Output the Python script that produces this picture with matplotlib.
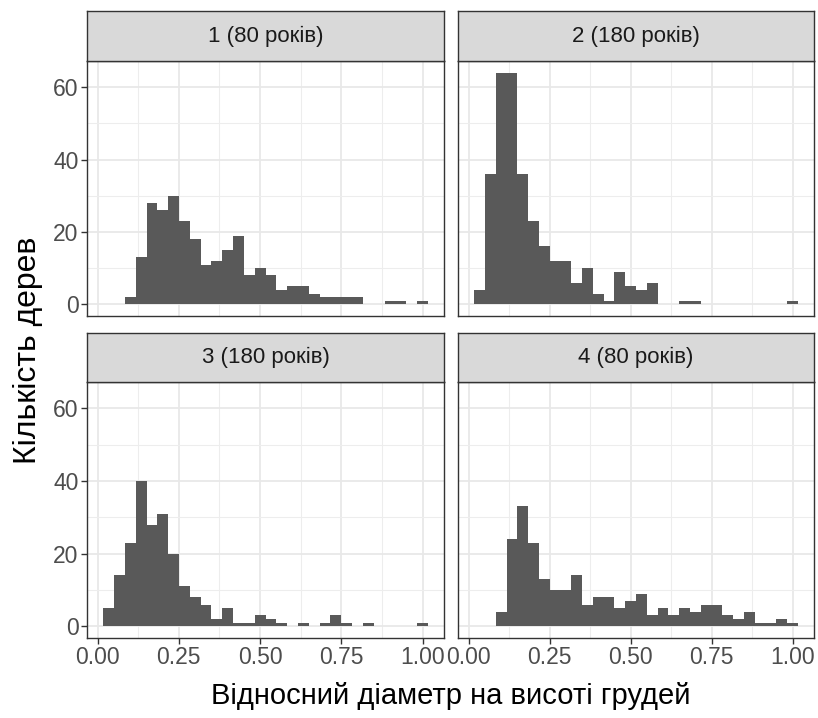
import numpy as np
import matplotlib as mpl
mpl.use('Agg')
import matplotlib.pyplot as plt

mpl.rcParams['font.family'] = ['Liberation Sans', 'DejaVu Sans']

# bin range shared by all facets (30 bins)
bin_lo, bin_hi, n_bins = 0.0175, 1.016, 30

titles = ['1 (80 років)', '2 (180 років)', '3 (180 років)', '4 (80 років)']

counts_1 = [0, 0, 2, 13, 28, 26, 30, 23, 18, 11, 12, 15, 19, 8, 10,
            8, 4, 5, 5, 3, 2, 2, 2, 2, 0, 0, 1, 1, 0, 1]
counts_2 = [4, 36, 64, 64, 36, 23, 16, 12, 12, 6, 10, 3, 1, 9, 5,
            4, 6, 0, 0, 1, 1, 0, 0, 0, 0, 0, 0, 0, 0, 1]
counts_3 = [5, 14, 23, 40, 28, 31, 20, 11, 8, 6, 2, 5, 1, 1, 3,
            2, 1, 0, 1, 0, 1, 3, 1, 0, 1, 0, 0, 0, 0, 1]
counts_4 = [0, 0, 4, 24, 33, 23, 13, 10, 10, 14, 6, 8, 8, 5, 7,
            9, 3, 5, 3, 5, 4, 6, 6, 3, 2, 4, 1, 1, 2, 1]
all_counts = [counts_1, counts_2, counts_3, counts_4]

x_ticks = [0.0, 0.25, 0.5, 0.75, 1.0]
x_ticklabels = ['0.00', '0.25', '0.50', '0.75', '1.00']
y_ticks = [0, 20, 40, 60]

W, H = 818, 718
fig = plt.figure(figsize=(W / 100, H / 100), dpi=100)

# panel boxes in pixels: (left, right) per column, (top, bottom, strip top) per row
cols = [(87, 444), (458, 814)]
rows = [(61, 316, 11), (382, 638, 333)]

edges = np.linspace(bin_lo, bin_hi, n_bins + 1)
bw = edges[1] - edges[0]
span = bin_hi - bin_lo
xlim = (bin_lo - 0.05 * span, bin_hi + 0.05 * span)
ymax = max(max(c) for c in all_counts)
ylim = (-0.05 * ymax, ymax * 1.05)

dark = '#333333'
for i, counts in enumerate(all_counts):
    r, c = divmod(i, 2)
    l, rr = cols[c]
    t, b, st = rows[r]
    ax = fig.add_axes([l / W, 1 - b / H, (rr - l) / W, (b - t) / H])
    ax.bar(edges[:-1], counts, width=bw, align='edge', color='#595959', linewidth=0)
    ax.set_xlim(xlim)
    ax.set_ylim(ylim)
    ax.set_xticks(x_ticks)
    ax.set_xticks([0.125, 0.375, 0.625, 0.875], minor=True)
    ax.set_yticks(y_ticks)
    ax.set_yticks([10, 30, 50], minor=True)
    ax.grid(True, which='major', color='#E8E8E8', linewidth=1.3)
    ax.grid(True, which='minor', color='#EDEDED', linewidth=0.8)
    ax.set_axisbelow(True)
    for s in ax.spines.values():
        s.set_color(dark)
        s.set_linewidth(1.0)
    ax.tick_params(which='minor', length=0)
    ax.tick_params(which='major', length=4, width=1.0, color=dark,
                   labelsize=16.5, labelcolor='#4D4D4D', pad=2)
    if r == 0:
        ax.tick_params(axis='x', which='major', length=0, labelbottom=False)
    else:
        ax.set_xticklabels(x_ticklabels)
    if c == 1:
        ax.tick_params(axis='y', which='major', length=0, labelleft=False)

    # strip
    sax = fig.add_axes([l / W, 1 - t / H, (rr - l) / W, (t - st) / H])
    sax.set_facecolor('#D9D9D9')
    sax.set_xticks([])
    sax.set_yticks([])
    for s in sax.spines.values():
        s.set_color(dark)
        s.set_linewidth(1.0)
    sax.text(0.5, 0.5, titles[i], ha='center', va='center', fontsize=16,
             color='#1A1A1A', transform=sax.transAxes)

fig.text((87 + 814) / 2 / W, 1 - 696 / H, 'Відносний діаметр на висоті грудей',
         ha='center', va='center', fontsize=21)
fig.text(28 / W, 1 - 350 / H, 'Кількість дерев', rotation=90,
         ha='center', va='center', fontsize=23)

fig.savefig('out.png', dpi=100)
